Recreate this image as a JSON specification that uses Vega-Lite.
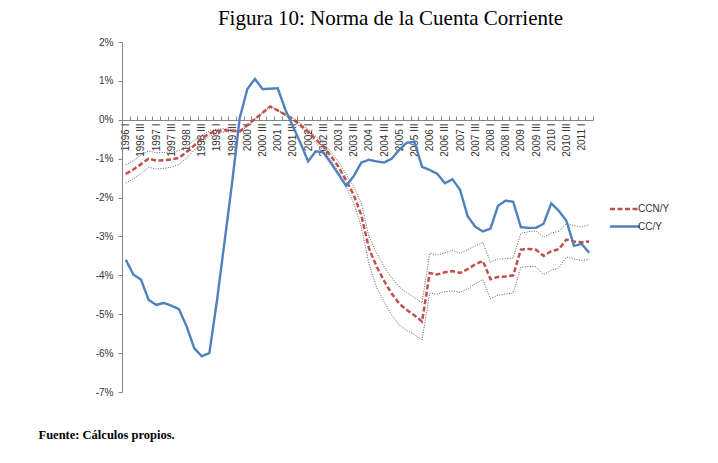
{
  "$schema": "https://vega.github.io/schema/vega-lite/v6.json",
  "width": 471,
  "height": 350,
  "autosize": {"type": "none"},
  "padding": {"left": 122, "top": 42, "right": 125, "bottom": 71},
  "background": "white",
  "view": {"stroke": null},
  "title": {
    "text": "Figura 10: Norma de la Cuenta Corriente",
    "font": "Liberation Serif",
    "fontSize": 21,
    "fontWeight": "normal",
    "color": "black",
    "anchor": "middle",
    "frame": "group",
    "baseline": "alphabetic",
    "dx": 33,
    "offset": -9
  },
  "data": {
    "values": [
      {"q": "1996 I", "cc": -3.60, "ccn": -1.39, "hi": -1.16, "lo": -1.63},
      {"q": "1996 II", "cc": -3.98, "ccn": -1.28, "hi": -1.05, "lo": -1.52},
      {"q": "1996 III", "cc": -4.11, "ccn": -1.14, "hi": -0.91, "lo": -1.38},
      {"q": "1996 IV", "cc": -4.63, "ccn": -1.00, "hi": -0.80, "lo": -1.22},
      {"q": "1997 I", "cc": -4.76, "ccn": -1.05, "hi": -0.85, "lo": -1.27},
      {"q": "1997 II", "cc": -4.71, "ccn": -1.04, "hi": -0.84, "lo": -1.25},
      {"q": "1997 III", "cc": -4.78, "ccn": -1.02, "hi": -0.83, "lo": -1.22},
      {"q": "1997 IV", "cc": -4.87, "ccn": -0.98, "hi": -0.80, "lo": -1.15},
      {"q": "1998 I", "cc": -5.31, "ccn": -0.83, "hi": -0.68, "lo": -0.98},
      {"q": "1998 II", "cc": -5.87, "ccn": -0.66, "hi": -0.54, "lo": -0.78},
      {"q": "1998 III", "cc": -6.08, "ccn": -0.48, "hi": -0.40, "lo": -0.58},
      {"q": "1998 IV", "cc": -6.00, "ccn": -0.35, "hi": -0.29, "lo": -0.42},
      {"q": "1999 I", "cc": -4.65, "ccn": -0.29, "hi": -0.24, "lo": -0.34},
      {"q": "1999 II", "cc": -3.14, "ccn": -0.27, "hi": -0.23, "lo": -0.31},
      {"q": "1999 III", "cc": -1.61, "ccn": -0.28, "hi": -0.25, "lo": -0.31},
      {"q": "1999 IV", "cc": 0.05, "ccn": -0.30, "hi": -0.28, "lo": -0.32},
      {"q": "2000 I", "cc": 0.79, "ccn": -0.14, "hi": -0.12, "lo": -0.16},
      {"q": "2000 II", "cc": 1.05, "ccn": 0.02, "hi": 0.03, "lo": 0.01},
      {"q": "2000 III", "cc": 0.79, "ccn": 0.18, "hi": 0.19, "lo": 0.17},
      {"q": "2000 IV", "cc": 0.80, "ccn": 0.34, "hi": 0.35, "lo": 0.33},
      {"q": "2001 I", "cc": 0.81, "ccn": 0.24, "hi": 0.25, "lo": 0.23},
      {"q": "2001 II", "cc": 0.26, "ccn": 0.13, "hi": 0.15, "lo": 0.11},
      {"q": "2001 III", "cc": -0.17, "ccn": 0.02, "hi": 0.05, "lo": -0.01},
      {"q": "2001 IV", "cc": -0.60, "ccn": -0.14, "hi": -0.10, "lo": -0.19},
      {"q": "2002 I", "cc": -1.07, "ccn": -0.31, "hi": -0.25, "lo": -0.37},
      {"q": "2002 II", "cc": -0.81, "ccn": -0.50, "hi": -0.42, "lo": -0.58},
      {"q": "2002 III", "cc": -0.84, "ccn": -0.69, "hi": -0.60, "lo": -0.79},
      {"q": "2002 IV", "cc": -1.11, "ccn": -0.93, "hi": -0.82, "lo": -1.04},
      {"q": "2003 I", "cc": -1.40, "ccn": -1.21, "hi": -1.08, "lo": -1.35},
      {"q": "2003 II", "cc": -1.70, "ccn": -1.56, "hi": -1.40, "lo": -1.72},
      {"q": "2003 III", "cc": -1.45, "ccn": -1.93, "hi": -1.72, "lo": -2.15},
      {"q": "2003 IV", "cc": -1.10, "ccn": -2.45, "hi": -2.15, "lo": -2.75},
      {"q": "2004 I", "cc": -1.03, "ccn": -3.30, "hi": -3.00, "lo": -3.70},
      {"q": "2004 II", "cc": -1.07, "ccn": -3.77, "hi": -3.42, "lo": -4.30},
      {"q": "2004 III", "cc": -1.10, "ccn": -4.14, "hi": -3.78, "lo": -4.68},
      {"q": "2004 IV", "cc": -1.00, "ccn": -4.47, "hi": -4.06, "lo": -5.02},
      {"q": "2005 I", "cc": -0.77, "ccn": -4.73, "hi": -4.30, "lo": -5.28},
      {"q": "2005 II", "cc": -0.59, "ccn": -4.89, "hi": -4.45, "lo": -5.42},
      {"q": "2005 III", "cc": -0.57, "ccn": -5.03, "hi": -4.57, "lo": -5.52},
      {"q": "2005 IV", "cc": -1.21, "ccn": -5.19, "hi": -4.71, "lo": -5.66},
      {"q": "2006 I", "cc": -1.29, "ccn": -3.94, "hi": -3.43, "lo": -4.46},
      {"q": "2006 II", "cc": -1.39, "ccn": -3.98, "hi": -3.48, "lo": -4.48},
      {"q": "2006 III", "cc": -1.63, "ccn": -3.92, "hi": -3.42, "lo": -4.42},
      {"q": "2006 IV", "cc": -1.53, "ccn": -3.89, "hi": -3.36, "lo": -4.40},
      {"q": "2007 I", "cc": -1.80, "ccn": -3.94, "hi": -3.43, "lo": -4.44},
      {"q": "2007 II", "cc": -2.48, "ccn": -3.84, "hi": -3.34, "lo": -4.35},
      {"q": "2007 III", "cc": -2.75, "ccn": -3.72, "hi": -3.24, "lo": -4.22},
      {"q": "2007 IV", "cc": -2.87, "ccn": -3.63, "hi": -3.15, "lo": -4.11},
      {"q": "2008 I", "cc": -2.80, "ccn": -4.10, "hi": -3.66, "lo": -4.60},
      {"q": "2008 II", "cc": -2.21, "ccn": -4.04, "hi": -3.58, "lo": -4.51},
      {"q": "2008 III", "cc": -2.08, "ccn": -4.03, "hi": -3.57, "lo": -4.48},
      {"q": "2008 IV", "cc": -2.11, "ccn": -4.00, "hi": -3.55, "lo": -4.45},
      {"q": "2009 I", "cc": -2.76, "ccn": -3.34, "hi": -2.92, "lo": -3.79},
      {"q": "2009 II", "cc": -2.78, "ccn": -3.32, "hi": -2.88, "lo": -3.77},
      {"q": "2009 III", "cc": -2.78, "ccn": -3.34, "hi": -2.86, "lo": -3.78},
      {"q": "2009 IV", "cc": -2.67, "ccn": -3.50, "hi": -3.02, "lo": -3.98},
      {"q": "2010 I", "cc": -2.15, "ccn": -3.38, "hi": -2.91, "lo": -3.87},
      {"q": "2010 II", "cc": -2.34, "ccn": -3.33, "hi": -2.87, "lo": -3.81},
      {"q": "2010 III", "cc": -2.60, "ccn": -3.08, "hi": -2.67, "lo": -3.53},
      {"q": "2010 IV", "cc": -3.24, "ccn": -3.13, "hi": -2.72, "lo": -3.58},
      {"q": "2011 I", "cc": -3.19, "ccn": -3.15, "hi": -2.76, "lo": -3.62},
      {"q": "2011 II", "cc": -3.42, "ccn": -3.13, "hi": -2.70, "lo": -3.58}
    ]
  },
  "transform": [{"fold": ["hi", "lo", "ccn", "cc"], "as": ["s", "v"]}],
  "encoding": {
    "x": {
      "field": "q",
      "type": "ordinal",
      "sort": null,
      "bandPosition": 0.5,
      "scale": {"type": "band", "paddingInner": 0, "paddingOuter": 0},
      "axis": {
        "orient": "bottom",
        "offset": -272,
        "labelAngle": -90,
        "labelOverlap": false,
        "labelExpr": "test(regexp(' (I|III)$'), datum.label) ? datum.label : ''",
        "labelFont": "Liberation Sans",
        "labelFontSize": 10,
        "labelColor": "#333333",
        "labelPadding": 7,
        "tickBand": "extent",
        "tickSize": -4,
        "tickColor": "#868686",
        "domainColor": "#868686",
        "grid": false,
        "title": "Fuente: Cálculos propios.",
        "titleFont": "Liberation Serif",
        "titleFontSize": 12.5,
        "titleFontWeight": "bold",
        "titleColor": "black",
        "titleAlign": "left",
        "titleAnchor": "start",
        "titleBaseline": "alphabetic",
        "titleX": -84,
        "titleY": 318
      }
    },
    "y": {
      "field": "v",
      "type": "quantitative",
      "scale": {"domain": [-7, 2], "nice": false},
      "axis": {
        "values": [-7, -6, -5, -4, -3, -2, -1, 0, 1, 2],
        "labelExpr": "datum.value + '%'",
        "labelOverlap": false,
        "labelFont": "Liberation Sans",
        "labelFontSize": 10,
        "labelColor": "#333333",
        "labelPadding": 5,
        "tickSize": 4,
        "tickColor": "#868686",
        "domainColor": "#868686",
        "grid": false,
        "title": null
      }
    }
  },
  "layer": [
    {
      "transform": [{"filter": "datum.s == 'hi' || datum.s == 'lo'"}],
      "mark": {"type": "line", "color": "#333333", "strokeWidth": 0.8, "strokeDash": [1, 1.5]},
      "encoding": {"detail": {"field": "s"}}
    },
    {
      "transform": [{"filter": "datum.s == 'ccn'"}],
      "mark": {"type": "line", "strokeWidth": 2.5},
      "encoding": {
        "color": {
          "datum": "CCN/Y",
          "scale": {"domain": ["CCN/Y", "CC/Y"], "range": ["#C0504D", "#4F81BD"]},
          "title": null
        },
        "strokeDash": {
          "datum": "CCN/Y",
          "scale": {"domain": ["CCN/Y", "CC/Y"], "range": [[5, 2.5], [1, 0]]},
          "title": null
        }
      }
    },
    {
      "transform": [{"filter": "datum.s == 'cc'"}],
      "mark": {"type": "line", "strokeWidth": 2.4},
      "encoding": {
        "color": {"datum": "CC/Y"},
        "strokeDash": {"datum": "CC/Y"}
      }
    }
  ],
  "config": {
    "legend": {
      "orient": "none",
      "legendX": 494,
      "legendY": 158,
      "padding": 0,
      "symbolType": "M-2,0H2",
      "symbolSize": 225,
      "symbolStrokeWidth": 2.5,
      "labelFont": "Liberation Sans",
      "labelFontSize": 10,
      "labelColor": "#333333",
      "labelOffset": 4,
      "rowPadding": 3.5
    },
    "axis": {"domainWidth": 1}
  }
}
